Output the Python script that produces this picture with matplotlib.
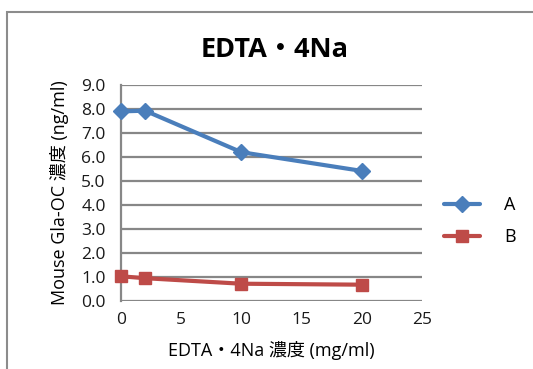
import matplotlib
matplotlib.use("Agg")
import matplotlib.pyplot as plt
from matplotlib.patches import Rectangle

conc = [0, 2, 10, 20]
series_a = [7.9, 7.93, 6.2, 5.42]
series_b = [1.03, 0.95, 0.72, 0.68]
yticks = [0, 1, 2, 3, 4, 5, 6, 7, 8, 9]
xticks = [0, 5, 10, 15, 20, 25]

plt.rcParams['font.family'] = ['Open Sans', 'Noto Sans CJK JP', 'DejaVu Sans']

fig = plt.figure(figsize=(5.33, 3.69), dpi=100)
fig.patch.set_facecolor('white')
fig.patches.append(Rectangle((7/533, -0.1), 1.2, 1 - 12/369 + 0.1, transform=fig.transFigure,
                             fill=False, edgecolor='#8c8c8c', linewidth=1.5))

ax = fig.add_axes([121/533, 1 - 301/369, 301/533, 216/369])
ax.plot(conc, series_a, color='#4A7EBB', lw=3, marker='D', ms=8, label='A',
        solid_capstyle='round', clip_on=False, zorder=3)
ax.plot(conc, series_b, color='#BE4B48', lw=3, marker='s', ms=9, label='B',
        solid_capstyle='round', clip_on=False, zorder=3)

ax.set_xlim(0, 25)
ax.set_ylim(0, 9)
ax.set_yticks(yticks)
ax.set_yticklabels([f"{v:.1f}" for v in yticks])
ax.set_xticks(xticks)
ax.grid(axis='y', color='#878787', lw=1.6)
ax.set_axisbelow(True)
for s in ['top', 'right', 'bottom']:
    ax.spines[s].set_visible(False)
ax.spines['left'].set_color('#878787')
ax.spines['left'].set_linewidth(1.6)
ax.tick_params(length=0, labelsize=12.5, colors='#1a1a1a')
ax.tick_params(axis='y', pad=11)
ax.tick_params(axis='x', pad=8)

ax.set_title('EDTA・4Na', fontsize=19.5, fontweight='bold', pad=20, x=(275 - 121) / 301)
ax.set_xlabel('EDTA・4Na 濃度 (mg/ml)', fontsize=13, labelpad=9)
ax.set_ylabel('Mouse Gla-OC 濃度 (ng/ml)', fontsize=13, labelpad=9)

leg = ax.legend(loc='center left', bbox_to_anchor=(1.02, 0.37), frameon=False, fontsize=13,
                handlelength=2.0, handletextpad=1.3, labelspacing=0.75)
fig.savefig('out.png', dpi=100)
